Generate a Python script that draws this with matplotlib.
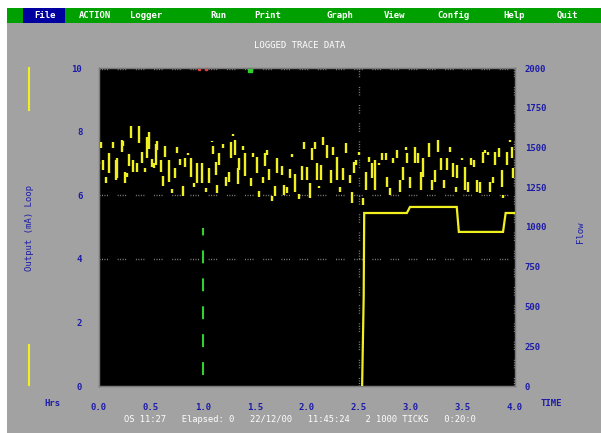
import matplotlib
matplotlib.use("Agg")
import matplotlib.pyplot as plt
from matplotlib.patches import Rectangle
from matplotlib.lines import Line2D

# ---------------- data ----------------
menu_items = ["File", "ACTION", "Logger", "Run", "Print", "Graph", "View", "Config", "Help", "Quit"]
menu_x = [45, 95, 146, 218, 268, 340, 395, 454, 514, 567]
title_text = "LOGGED TRACE DATA"
status_text = "OS 11:27   Elapsed: 0   22/12/00   11:45:24   2 1000 TICKS   0:20:0"
left_label = "Output (mA) Loop"
right_label = "Flow"

x_ticks = [0.0, 0.5, 1.0, 1.5, 2.0, 2.5, 3.0, 3.5, 4.0]
left_ticks = [0, 2, 4, 6, 8, 10]
right_ticks = [0, 250, 500, 750, 1000, 1250, 1500, 1750, 2000]

# noisy signal: time (hrs), low value, high value (left axis)
noise_t = [0.019, 0.0, 0.042, 0.067, 0.096, 0.138, 0.160, 0.176, 0.218, 0.234, 0.25, 0.266,
           0.292, 0.308, 0.330, 0.362, 0.385, 0.410, 0.442, 0.458, 0.481, 0.506, 0.532, 0.545,
           0.561, 0.593, 0.619, 0.635, 0.673, 0.705, 0.731, 0.753, 0.779, 0.811, 0.827, 0.859,
           0.885, 0.913, 0.946, 0.987, 1.026, 1.058, 1.083, 1.099, 1.122, 1.138, 1.154, 1.196,
           1.218, 1.25, 1.269, 1.292, 1.308, 1.333, 1.349, 1.388, 1.404, 1.462, 1.484, 1.516,
           1.538, 1.580, 1.596, 1.619, 1.635, 1.660, 1.692, 1.715, 1.756, 1.782, 1.804, 1.837,
           1.859, 1.885, 1.923, 1.949,
           1.971, 2.003, 2.029, 2.045, 2.077, 2.093, 2.115, 2.135, 2.157, 2.189, 2.228, 2.253,
           2.292, 2.317, 2.349, 2.375, 2.413, 2.429, 2.452, 2.471, 2.503, 2.542, 2.564, 2.599,
           2.622, 2.655, 2.695, 2.724, 2.760, 2.772, 2.798, 2.830, 2.862, 2.894, 2.926, 2.952,
           2.965, 2.990, 3.038, 3.071, 3.093, 3.119, 3.176, 3.205, 3.231, 3.263, 3.285, 3.317,
           3.343, 3.375, 3.407, 3.429, 3.446, 3.487, 3.519, 3.551, 3.574, 3.606, 3.631, 3.663,
           3.689, 3.712, 3.744, 3.760, 3.785, 3.808, 3.849, 3.872, 3.888, 3.920, 3.952, 3.968,
           3.984]
noise_hi = [7.66, 7.05, 7.11, 6.58, 7.34, 7.66, 7.11, 7.16, 7.74, 7.70, 6.74, 6.71,
            7.29, 8.18, 7.11, 7.00, 8.18, 7.37, 6.84, 7.84, 7.98, 7.13, 7.00, 7.60,
            7.71, 7.11, 6.60, 7.56, 7.11, 6.18, 6.84, 7.53, 7.14, 6.29, 7.16, 7.34,
            7.16, 6.39, 7.00, 7.00, 6.24, 6.84, 7.71, 7.55, 7.05, 6.32, 7.34, 7.61,
            6.58, 6.74, 7.66, 7.91, 7.74, 6.84, 7.16, 7.55, 7.32, 6.53, 7.32, 7.21,
            6.13, 6.58, 7.32, 7.42, 6.81, 5.97, 6.29, 7.16, 6.92, 6.32, 6.27, 6.81,
            7.30, 6.66, 6.04, 6.92,
            7.66, 6.90, 6.37, 7.47, 7.66, 7.00, 6.29, 6.95, 7.84, 7.58, 6.79, 7.53,
            7.21, 6.27, 6.84, 7.63, 6.64, 6.11, 7.05, 7.11, 7.37, 5.90, 6.74, 7.21,
            7.00, 7.11, 7.00, 7.32, 7.32, 6.58, 6.22, 7.16, 7.42, 6.48, 6.90, 7.53,
            7.32, 6.58, 7.53, 7.32, 6.74, 7.16, 7.63, 6.48, 6.79, 7.74, 7.16, 6.48,
            7.16, 7.53, 7.00, 6.27, 6.95, 7.16, 6.90, 6.43, 7.16, 7.11, 6.48, 6.43,
            7.37, 7.42, 7.37, 6.43, 6.58, 7.37, 7.47, 6.79, 6.01, 7.37, 7.74, 7.53,
            6.84]
noise_lo = [7.47, 6.98, 6.79, 6.37, 6.69, 7.47, 6.48, 6.53, 7.37, 7.55, 6.37, 6.58,
            6.92, 7.79, 6.74, 6.74, 7.63, 7.00, 6.74, 7.16, 7.44, 6.90, 6.84, 6.95,
            7.42, 6.74, 6.29, 7.21, 6.43, 6.06, 6.53, 7.32, 6.95, 5.97, 6.88, 7.26,
            6.58, 6.25, 6.39, 6.39, 6.11, 6.39, 7.66, 7.29, 6.64, 6.06, 6.95, 7.47,
            6.29, 6.43, 7.16, 7.86, 7.26, 6.35, 6.79, 7.42, 6.60, 6.29, 7.21, 6.69,
            5.93, 6.37, 6.92, 7.26, 6.48, 5.83, 5.97, 6.69, 6.64, 6.01, 6.06, 6.53,
            7.19, 6.11, 5.87, 6.48,
            7.44, 6.48, 5.90, 7.11, 7.44, 6.48, 6.22, 6.48, 7.58, 7.16, 6.37, 7.26,
            6.48, 6.11, 6.48, 7.32, 6.37, 5.77, 6.69, 6.95, 7.26, 5.69, 6.16, 7.05,
            6.53, 6.16, 6.95, 7.11, 7.11, 6.27, 6.01, 7.00, 7.16, 6.11, 6.48, 7.42,
            7.00, 6.22, 7.00, 7.00, 6.16, 6.58, 7.21, 6.16, 6.43, 7.37, 6.79, 6.22,
            6.79, 7.37, 6.58, 6.11, 6.53, 7.11, 6.16, 6.11, 6.95, 6.90, 6.11, 6.06,
            7.00, 7.32, 7.26, 6.11, 6.37, 6.95, 7.21, 6.27, 5.90, 6.95, 7.68, 7.16,
            6.53]

# flow step trace (right axis)
flow_t = [2.53, 2.545, 2.55, 2.96, 2.99, 3.44, 3.46, 3.885, 3.91, 4.0]
flow_v = [0, 560, 1088, 1088, 1126, 1126, 969, 969, 1088, 1088]

# green event marker (hrs) and its span on the left axis
event_t = 1.0
event_span = [0.35, 4.97]
red_marks_t = [0.96, 1.03]
green_marks_t = [1.45]

# ---------------- styling ----------------
W, H = 601, 433
GRAY = "#a2a2a2"
GREEN = "#00a000"
BLUE = "#1c1ca8"
YELLOW = "#f0f020"
GRID = "#8a8a8a"
FONT = "DejaVu Sans Mono"

fig = plt.figure(figsize=(W / 100, H / 100), dpi=100)
fig.patch.set_facecolor("white")

def fx(px):
    return px / W

def fy(py):
    return 1 - py / H

# gray screen background
fig.add_artist(Rectangle((fx(7), 0), fx(594), fy(8), transform=fig.transFigure,
                         facecolor=GRAY, edgecolor="none", zorder=0))
# green menu bar
fig.add_artist(Rectangle((fx(7), fy(23)), fx(594), 15 / H, transform=fig.transFigure,
                         facecolor=GREEN, edgecolor="none", zorder=1))
fig.add_artist(Rectangle((fx(23), fy(23)), fx(42), 15 / H, transform=fig.transFigure,
                         facecolor="#0000a0", edgecolor="none", zorder=2))
for name, x in zip(menu_items, menu_x):
    fig.text(fx(x), fy(15.5), name, color="white", fontsize=6.5, fontweight="bold",
             family=FONT, ha="center", va="center", zorder=3)

fig.text(fx(300), fy(45), title_text, color="white", fontsize=6.5, family=FONT,
         ha="center", va="center")
fig.text(fx(300), fy(420), status_text, color="white", fontsize=6.3, family=FONT,
         ha="center", va="center")

# plot area
ax = fig.add_axes([fx(99), fy(386), fx(416), 318 / H])
ax.set_facecolor("black")
ax.set_xlim(0, 4.0)
ax.set_ylim(0, 10)
for s in ax.spines.values():
    s.set_color("#7a7a7a")
    s.set_linewidth(1)

grid_style = (0, (0.7, 1.1, 0.7, 1.1, 0.7, 1.1, 0.7, 7))
for v in [4, 6, 9.97]:
    ax.axhline(v, color=GRID, lw=1, ls=grid_style, zorder=1)
for t in [2.5, 3.99]:
    ax.axvline(t, color=GRID, lw=1, ls=grid_style, zorder=1)

ax.vlines(noise_t, noise_lo, noise_hi, colors=YELLOW, lw=1.7, zorder=3)
ax.vlines([event_t], event_span[0], event_span[1], colors="#30d030", lw=1.5,
          linestyles=(0, (6.2, 7.2)), zorder=3)
ax.plot(red_marks_t, [9.97] * len(red_marks_t), ls="none", marker="s", ms=2,
        color="#e04040", zorder=4, clip_on=False)
ax.plot(green_marks_t, [9.93] * len(green_marks_t), ls="none", marker="s", ms=2.2,
        color="#30d030", zorder=4, clip_on=False)

ax.set_xticks(x_ticks)
ax.set_xticklabels([f"{t:.1f}" for t in x_ticks])
ax.set_yticks(left_ticks)
ax.set_yticklabels([str(v) for v in left_ticks])
ax.tick_params(axis="both", which="major", length=0, colors=BLUE, labelsize=6.5)
ax.tick_params(axis="x", pad=12)
ax.tick_params(axis="y", pad=12)
ax.set_xticks([2.5], minor=True)
ax.set_yticks([4, 6, 10], minor=True)
ax.tick_params(axis="both", which="minor", length=6, width=1.5, color=BLUE)
for lab in ax.get_xticklabels() + ax.get_yticklabels():
    lab.set_family(FONT)
    lab.set_fontweight("bold")

ax2 = ax.twinx()
ax2.set_ylim(0, 2000)
ax2.plot(flow_t, flow_v, color=YELLOW, lw=1.6, zorder=4, solid_joinstyle="miter")
ax2.set_yticks(right_ticks)
ax2.set_yticklabels([str(v) for v in right_ticks])
ax2.tick_params(axis="y", which="major", length=0, colors=BLUE, labelsize=6.5, pad=7)
ax2.set_yticks([1000, 1250, 2000], minor=True)
ax2.tick_params(axis="y", which="minor", length=6, width=1.5, color=BLUE)
for s in ax2.spines.values():
    s.set_color("#7a7a7a")
for lab in ax2.get_yticklabels():
    lab.set_family(FONT)
    lab.set_fontweight("bold")

fig.text(fx(52), fy(403), "Hrs", color=BLUE, fontsize=6.5, family=FONT,
         fontweight="bold", ha="center", va="center")
fig.text(fx(551), fy(403), "TIME", color=BLUE, fontsize=6.5, family=FONT,
         fontweight="bold", ha="center", va="center")

fig.text(fx(29), fy(228), left_label, color=BLUE, fontsize=6.5, family=FONT,
         rotation=90, ha="center", va="center")
fig.text(fx(580), fy(232), right_label, color=BLUE, fontsize=6.5, family=FONT,
         rotation=90, ha="center", va="center")
fig.add_artist(Line2D([fx(29), fx(29)], [fy(68), fy(110)], color=YELLOW, lw=1.5,
                      transform=fig.transFigure))
fig.add_artist(Line2D([fx(29), fx(29)], [fy(345), fy(385)], color=YELLOW, lw=1.5,
                      transform=fig.transFigure))

fig.savefig("out.png", dpi=100, facecolor=fig.get_facecolor())
